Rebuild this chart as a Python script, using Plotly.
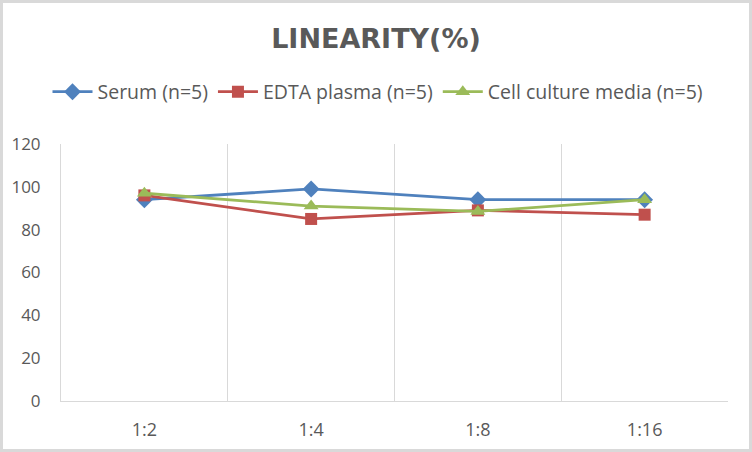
import plotly.graph_objects as go

categories = ["1:2", "1:4", "1:8", "1:16"]
serum = [94, 99, 94, 94]
edta = [96, 85, 89, 87]
cell = [97, 91, 88.5, 94]
y_ticks = [0, 20, 40, 60, 80, 100, 120]

W, H = 752, 452
ml, mr, mt, mb = 61, 24, 144, 51
pw, ph = W - ml - mr, H - mt - mb

FONT = "Open Sans, sans-serif"
GREY = "#595959"

fig = go.Figure()
series = [
    ("Serum (n=5)", serum, "#4F81BD", "diamond", 13),
    ("EDTA plasma (n=5)", edta, "#C0504D", "square", 12),
    ("Cell culture media (n=5)", cell, "#9BBB59", "triangle-up", 13),
]
for name, vals, col, sym, sz in series:
    fig.add_trace(go.Scatter(
        x=categories, y=vals, name=name, mode="lines+markers",
        line=dict(color=col, width=2.8),
        marker=dict(symbol=sym, size=sz, color=col),
    ))

fig.update_layout(
    width=W, height=H,
    margin=dict(l=ml, r=mr, t=mt, b=mb),
    paper_bgcolor="white", plot_bgcolor="white",
    font=dict(family=FONT, color=GREY, size=16),
    title=dict(text="<b>LINEARITY(%)</b>", x=0.5, xanchor="center", y=1 - 39 / H, yanchor="middle",
               font=dict(family="DejaVu Sans, sans-serif", size=27, color=GREY)),
    legend=dict(orientation="h", x=(378 - ml) / pw, xanchor="center", y=1 + (mt - 92) / ph, yanchor="middle",
                font=dict(family=FONT, size=19.5, color=GREY), itemwidth=40, traceorder="normal"),
    showlegend=True,
)
fig.update_xaxes(
    type="category", tickson="boundaries", range=[-0.5, 3.5],
    showgrid=True, gridcolor="#D9D9D9", gridwidth=1,
    showline=True, linecolor="#D9D9D9", linewidth=1,
    ticks="", tickfont=dict(family=FONT, size=18, color=GREY), ticklabelstandoff=12,
)
fig.update_yaxes(
    range=[0, 120], tickvals=y_ticks, showgrid=False,
    showline=True, linecolor="#D9D9D9", linewidth=1, zeroline=False,
    ticks="", tickfont=dict(family=FONT, size=17, color=GREY), ticklabelstandoff=16,
)
fig.add_shape(type="rect", xref="paper", yref="paper",
              x0=-(ml - 1.5) / pw, x1=1 + (mr - 1.5) / pw,
              y0=-(mb - 1.5) / ph, y1=1 + (mt - 1.5) / ph,
              line=dict(color="#D9D9D9", width=3), layer="below")

fig.write_html("out.html", config={"displayModeBar": False},
               post_script="document.body.style.margin='0';document.body.style.overflow='hidden';")
